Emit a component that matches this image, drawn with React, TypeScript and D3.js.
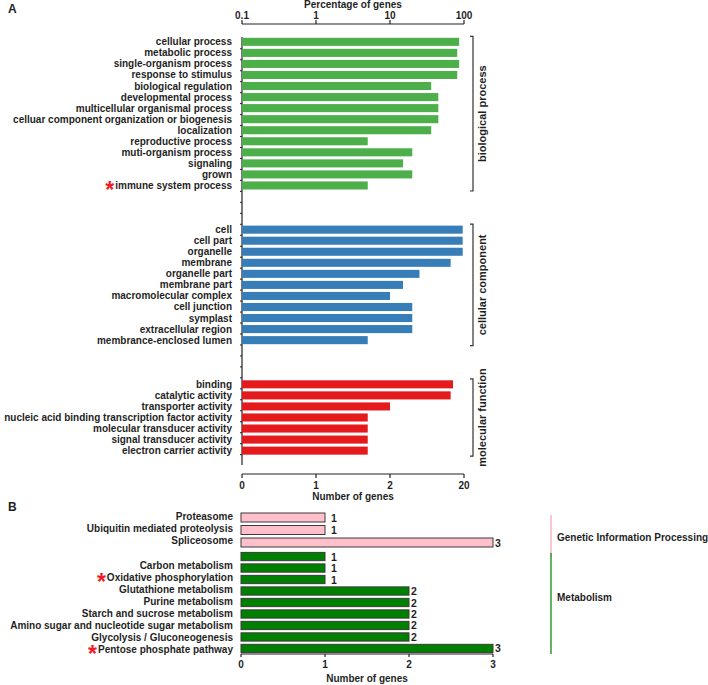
import { scaleBand, scaleLinear, scaleLog } from 'd3';

const width = 708;
const height = 685;
const font = '"Liberation Sans", Arial, Helvetica, sans-serif';
const textColor = '#1f1f1f';

// ---- panel A data (percentage of genes, log axis) ----
const bioNames = [
	'cellular process',
	'metabolic process',
	'single-organism process',
	'response to stimulus',
	'biological regulation',
	'developmental process',
	'multicellular organismal process',
	'celluar component organization or biogenesis',
	'localization',
	'reproductive process',
	'muti-organism process',
	'signaling',
	'grown',
	'immune system process',
];
const bioValues = [86, 81, 86, 81, 36, 45, 45, 45, 36, 5, 20, 15, 20, 5];

const ccNames = [
	'cell',
	'cell part',
	'organelle',
	'membrane',
	'organelle part',
	'membrane part',
	'macromolecular complex',
	'cell junction',
	'symplast',
	'extracellular region',
	'membrance-enclosed lumen',
];
const ccValues = [96, 96, 96, 66, 25, 15, 10, 20, 20, 20, 5];

const mfNames = [
	'binding',
	'catalytic activity',
	'transporter activity',
	'nucleic acid binding transcription factor activity',
	'molecular transducer activity',
	'signal transducer activity',
	'electron carrier activity',
];
const mfValues = [71, 66, 10, 5, 5, 5, 5];

const groupTitles = ['biological process', 'cellular component', 'molecular function'];
const groupColors = ['#4daf4a', '#377eb8', '#e41a1c'];

const topTicks = [0.1, 1, 10, 100];
const topTickLabels = ['0.1', '1', '10', '100'];
const bottomTickLabels = ['0', '1', '2', '20'];

// ---- panel B data (number of genes) ----
const gipNames = ['Proteasome', 'Ubiquitin mediated proteolysis', 'Spliceosome'];
const gipCounts = [1, 1, 3];
const metNames = [
	'Carbon metabolism',
	'Oxidative phosphorylation',
	'Glutathione metabolism',
	'Purine metabolism',
	'Starch and sucrose metabolism',
	'Amino sugar and nucleotide sugar metabolism',
	'Glycolysis / Gluconeogenesis',
	'Pentose phosphate pathway',
];
const metCounts = [1, 1, 1, 2, 2, 2, 2, 2, 3];
const bTicks = [0, 1, 2, 3];

const starred = ['immune system process', 'Oxidative phosphorylation', 'Pentose phosphate pathway'];

const Label = ({ x, y, name, size = 10 }: any) => {
	const star = starred.includes(name);
	return (
		<text x={x} y={y + size * 0.35} textAnchor="end" fontSize={size} fontWeight="bold" fill={textColor}>
			{star && (
				<tspan fill="#ee1c25" fontSize={23} dy={9}>
					*
				</tspan>
			)}
			<tspan dy={star ? -9 : 0} dx={star ? 1 : 0}>
				{name}
			</tspan>
		</text>
	);
};

const PanelA = () => {
	const groups = [
		{ names: bioNames, values: bioValues },
		{ names: ccNames, values: ccValues },
		{ names: mfNames, values: mfValues },
	];
	// rows incl. 3 empty rows between groups
	const rows: string[] = [];
	groups.forEach((g, gi) => {
		if (gi > 0) rows.push(`gap${gi}a`, `gap${gi}b`, `gap${gi}c`);
		g.names.forEach(n => rows.push(n));
	});

	const x = scaleLog().domain([0.1, 100]).range([242, 464]);
	const y = scaleBand<string>().domain(rows).range([37.8, 37.8 + rows.length * 10.97]).paddingInner(0.27);
	const axisTop = 24;
	const axisBottom = 474;
	const bracketX = 473;

	return (
		<g>
			<text x={8} y={13} fontSize={12} fontWeight="bold" fill={textColor}>
				A
			</text>
			{/* top axis */}
			<text x={(x(0.1) + x(100)) / 2} y={7.5} textAnchor="middle" fontSize={10} fontWeight="bold" fill={textColor}>
				Percentage of genes
			</text>
			<line x1={x(0.1)} x2={x(100)} y1={axisTop} y2={axisTop} stroke="#222" strokeWidth={1.2} />
			{topTicks.map((t, i) => (
				<g key={t} transform={`translate(${x(t)},0)`}>
					<line y1={axisTop} y2={axisTop - 4} stroke="#222" strokeWidth={1.2} />
					<text y={19} textAnchor="middle" fontSize={10} fontWeight="bold" fill={textColor}>
						{topTickLabels[i]}
					</text>
				</g>
			))}
			{/* left axis */}
			<line x1={242} x2={242} y1={37} y2={465} stroke="#222" strokeWidth={1.2} />
			{rows.map((r, i) => (
				<line key={r} x1={240} x2={242} y1={37.8 + (i + 1) * 10.97} y2={37.8 + (i + 1) * 10.97} stroke="#222" />
			))}
			{/* bars */}
			{groups.map((g, gi) => (
				<g key={gi}>
					{g.names.map((n, i) => (
						<g key={n}>
							<rect
								x={x(0.1)}
								y={y(n)}
								width={x(g.values[i]) - x(0.1)}
								height={y.bandwidth()}
								fill={groupColors[gi]}
							/>
							<Label x={232} y={(y(n) as number) + y.bandwidth() / 2} name={n} />
						</g>
					))}
				</g>
			))}
			{/* brackets */}
			{groups.map((g, gi) => {
				const y0 = (y(g.names[0]) as number) - 1.5;
				const y1 = (y(g.names[g.names.length - 1]) as number) + y.bandwidth() + 1.5;
				return (
					<g key={gi}>
						<path
							d={`M${bracketX - 3},${y0}H${bracketX}V${y1}H${bracketX - 3}`}
							fill="none"
							stroke="#333"
							strokeWidth={1.2}
						/>
						<text
							transform={`translate(${486},${(y0 + y1) / 2}) rotate(-90)`}
							textAnchor="middle"
							fontSize={11}
							fontWeight="bold"
							fill={textColor}
						>
							{groupTitles[gi]}
						</text>
					</g>
				);
			})}
			{/* bottom axis */}
			<line x1={x(0.1)} x2={x(100)} y1={axisBottom} y2={axisBottom} stroke="#222" strokeWidth={1.2} />
			{topTicks.map((t, i) => (
				<g key={t} transform={`translate(${x(t)},0)`}>
					<line y1={axisBottom} y2={axisBottom + 4} stroke="#222" strokeWidth={1.2} />
					<text y={489} textAnchor="middle" fontSize={10} fontWeight="bold" fill={textColor}>
						{bottomTickLabels[i]}
					</text>
				</g>
			))}
			<text x={(x(0.1) + x(100)) / 2} y={500} textAnchor="middle" fontSize={10} fontWeight="bold" fill={textColor}>
				Number of genes
			</text>
		</g>
	);
};

const PanelB = () => {
	const x = scaleLinear().domain([0, 3]).range([241, 493]);
	const gipY = scaleBand<number>().domain(gipCounts.map((_, i) => i)).range([513, 547]).paddingInner(0.28);
	const metY = scaleBand<number>().domain(metCounts.map((_, i) => i)).range([552.4, 652.6]).paddingInner(0.28);
	// labels sit on their own evenly spaced slots (3 + gap + 8)
	const labelY = scaleLinear().domain([0, 11]).range([516.7, 649.7]);
	const axisY = 654;

	const bars = (counts: number[], yS: any, fill: string) =>
		counts.map((c, i) => (
			<g key={i}>
				<rect
					x={x(0)}
					y={yS(i)}
					width={x(c) - x(0)}
					height={yS.bandwidth()}
					fill={fill}
					stroke="#3a3a3a"
					strokeWidth={1}
				/>
				<text
					x={x(c) + (c === 1 ? 6 : 2)}
					y={yS(i) + yS.bandwidth() / 2 + 4}
					fontSize={10.5}
					fontWeight="bold"
					fill={textColor}
				>
					{c}
				</text>
			</g>
		));

	return (
		<g>
			<text x={8} y={511} fontSize={12} fontWeight="bold" fill={textColor}>
				B
			</text>
			{bars(gipCounts, gipY, '#ffc0cb')}
			{bars(metCounts, metY, '#008000')}
			{gipNames.map((n, i) => (
				<Label key={n} x={233} y={labelY(i)} name={n} />
			))}
			{metNames.map((n, i) => (
				<Label key={n} x={233} y={labelY(i + 4)} name={n} />
			))}
			{/* axis */}
			<line x1={x(0)} x2={x(3)} y1={axisY} y2={axisY} stroke="#222" strokeWidth={1.2} />
			{bTicks.map(t => (
				<g key={t} transform={`translate(${x(t)},0)`}>
					<line y1={axisY} y2={axisY + 3} stroke="#222" strokeWidth={1.2} />
					<text y={668} textAnchor="middle" fontSize={10} fontWeight="bold" fill={textColor}>
						{t}
					</text>
				</g>
			))}
			<text x={(x(0) + x(3)) / 2} y={682} textAnchor="middle" fontSize={10} fontWeight="bold" fill={textColor}>
				Number of genes
			</text>
			{/* category lines */}
			<line x1={551} x2={551} y1={515} y2={557} stroke="#f4b6c2" strokeWidth={1.5} />
			<text x={557} y={541} fontSize={10} fontWeight="bold" fill={textColor}>
				Genetic Information Processing
			</text>
			<line x1={551} x2={551} y1={553} y2={654} stroke="#2e9a2e" strokeWidth={1.5} />
			<text x={557} y={601} fontSize={10} fontWeight="bold" fill={textColor}>
				Metabolism
			</text>
		</g>
	);
};

const App = () => (
	<svg
		width={width}
		height={height}
		style={{ position: 'absolute', left: 0, top: 0, background: '#fff' }}
		fontFamily={font}
	>
		<PanelA />
		<PanelB />
	</svg>
);

export default App;
